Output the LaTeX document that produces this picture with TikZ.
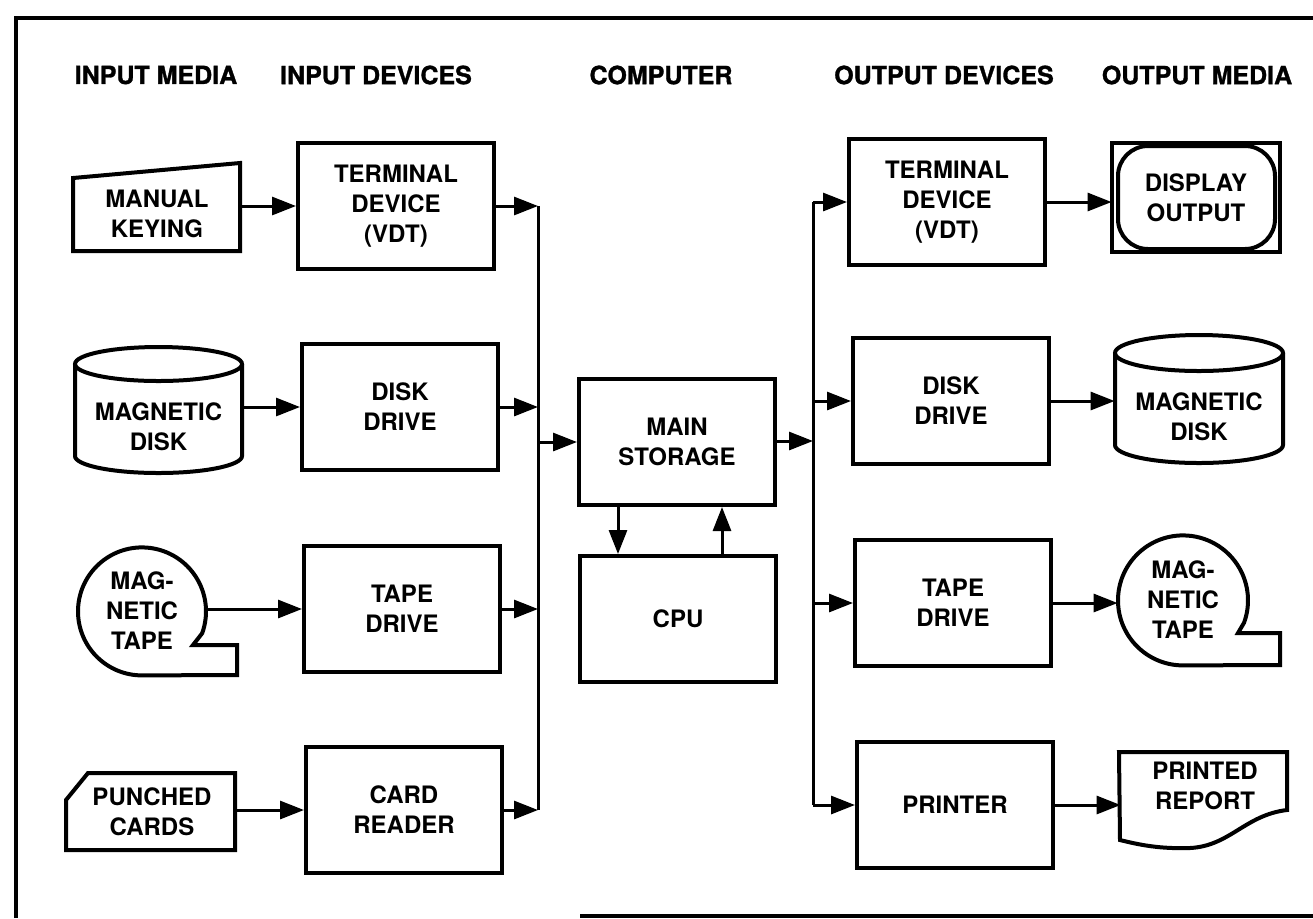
\documentclass[tikz,border=0pt]{standalone}
\usepackage{fontspec}
\setmainfont{TeX Gyre Heros}
\newfontfamily\heavyfont{TeX Gyre Heros}[BoldFeatures={FakeBold=1.2}]
\usetikzlibrary{arrows.meta,calc}
\newcommand\boxfont{\fontsize{12}{15}\selectfont\bfseries}
\newcommand\hdfont{\heavyfont\fontsize{12.5}{15}\selectfont\bfseries}
\begin{document}
\begin{tikzpicture}[x=0.5pt,y=-0.5pt,
  box/.style={draw,line width=2pt,minimum width=98pt,minimum height=63pt,
    inner sep=0pt,align=center,font=\boxfont},
  media/.style={inner sep=0pt,align=center,font=\boxfont},
  hd/.style={inner sep=0pt,font=\hdfont},
  outline/.style={line width=2pt,line join=miter},
  wire/.style={line width=1.5pt,line cap=square},
  arr/.style={line width=1.5pt,-{Triangle[length=12pt,width=9pt]}}]
\useasboundingbox (0,0) rectangle (1313,918);

% open frame
\draw[line width=1.8pt] (16,918) -- (16,18) -- (1313,18);
\draw[line width=1.8pt] (580,916) -- (1313,916);

% column headings
\node[hd] (h1) at (156,75) {INPUT MEDIA};
\node[hd] (h2) at (376,75) {INPUT DEVICES};
\node[hd] (h3) at (661,75) {COMPUTER};
\node[hd] (h4) at (944,75) {OUTPUT DEVICES};
\node[hd] (h5) at (1197,75) {OUTPUT MEDIA};

% devices and computer
\node[box] (itd) at (396,206) {TERMINAL\\DEVICE\\(VDT)};
\node[box] (idd) at (400,407) {DISK\\DRIVE};
\node[box] (itp) at (402,609) {TAPE\\DRIVE};
\node[box] (icr) at (404,810) {CARD\\READER};
\node[box] (ms)  at (677,442) {MAIN\\STORAGE};
\node[box] (cpu) at (678,619) {CPU};
\node[box] (otd) at (947,202) {TERMINAL\\DEVICE\\(VDT)};
\node[box] (odd) at (951,401) {DISK\\DRIVE};
\node[box] (otp) at (953,603) {TAPE\\DRIVE};
\node[box] (opr) at (955,805) {PRINTER};

% input media
\node[media,minimum width=83.5pt,minimum height=40pt] (mk) at (157,214) {MANUAL\\KEYING};
\draw[outline] (73,178) -- (240,163) -- (240,251) -- (73,251) -- cycle;

\node[media,minimum width=83.5pt,minimum height=46pt] (md) at (158.5,427) {MAGNETIC\\DISK};
\draw[outline] (158.5,364) ellipse[x radius=83.5,y radius=17];
\draw[outline] (75,364) -- (75,456) arc[start angle=180,end angle=0,x radius=83.5,y radius=17] -- (242,364);

\node[media,circle,minimum size=64pt] (mt) at (142,611) {MAG-\\NETIC\\TAPE};
\draw[outline] (mt.south) arc[start angle=90,end angle=380,radius=64] -- (193,645) -- (237,645) -- (237,675) -- cycle;

\node[media,minimum width=84.5pt,minimum height=38.5pt] (pc) at (152,811.5) {PUNCHED\\CARDS};
\draw[outline] (66,800) -- (88,773) -- (235,773) -- (235,850) -- (66,850) -- cycle;

% output media
\node[media,minimum width=84pt,minimum height=54.5pt] (dsp) at (1196,197.5) {DISPLAY\\OUTPUT};
\draw[outline] (1112,143) rectangle (1280,252);
\draw[outline,rounded corners=15pt] (1118,146) rectangle (1275,249);

\node[media,minimum width=84pt,minimum height=46pt] (md2) at (1199,417) {MAGNETIC\\DISK};
\draw[outline] (1199,353) ellipse[x radius=84,y radius=18];
\draw[outline] (1115,353) -- (1115,445) arc[start angle=180,end angle=0,x radius=84,y radius=18] -- (1283,353);

\node[media,circle,minimum size=65pt] (mt2) at (1183,600) {MAG-\\NETIC\\TAPE};
\draw[outline] (mt2.south) arc[start angle=90,end angle=380,radius=65] -- (1238,633) -- (1280,633) -- (1280,665) -- cycle;

\node[media,minimum width=84pt,minimum height=34pt] (rpt) at (1205,786) {PRINTED\\REPORT};
\draw[outline] (1119,752) -- (1287,752) -- (1287,810)
  .. controls (1245,815) and (1230,846) .. (1190,848)
  .. controls (1160,849) and (1140,845) .. (1120,840) -- cycle;

% media to input devices
\draw[arr] (mk.east |- itd.west) -- (itd.west);
\draw[arr] (md.east |- idd.west) -- (idd.west);
\draw[arr] (mt.east |- itp.west) -- (itp.west);
\draw[arr] (pc.east |- icr.west) -- (icr.west);

% input bus
\coordinate (ib) at (538,442);
\draw[wire] (itd.east -| ib) -- (icr.east -| ib);
\draw[arr] (itd.east) -- (itd.east -| ib);
\draw[arr] (idd.east) -- (idd.east -| ib);
\draw[arr] (itp.east) -- (itp.east -| ib);
\draw[arr] (icr.east) -- (icr.east -| ib);
\draw[arr] (ib) -- (ms.west);

% main storage and CPU
\draw[arr] ([xshift=-29.5pt]ms.south) -- ([xshift=-29.5pt]ms.south |- cpu.north);
\draw[arr] ([xshift=22.5pt]ms.south |- cpu.north) -- ([xshift=22.5pt]ms.south);

% output bus
\coordinate (ob) at (813,441);
\draw[arr] (ms.east |- ob) -- (ob);
\draw[wire] (otd.west -| ob) -- (opr.west -| ob);
\draw[arr] (otd.west -| ob) -- (otd.west);
\draw[arr] (odd.west -| ob) -- (odd.west);
\draw[arr] (otp.west -| ob) -- (otp.west);
\draw[arr] (opr.west -| ob) -- (opr.west);

% output devices to media
\draw[arr] (otd.east) -- (otd.east -| dsp.west);
\draw[arr] (odd.east) -- (odd.east -| md2.west);
\draw[arr] (otp.east) -- (otp.east -| mt2.west);
\draw[arr] (opr.east) -- (opr.east -| rpt.west);
\end{tikzpicture}
\end{document}
